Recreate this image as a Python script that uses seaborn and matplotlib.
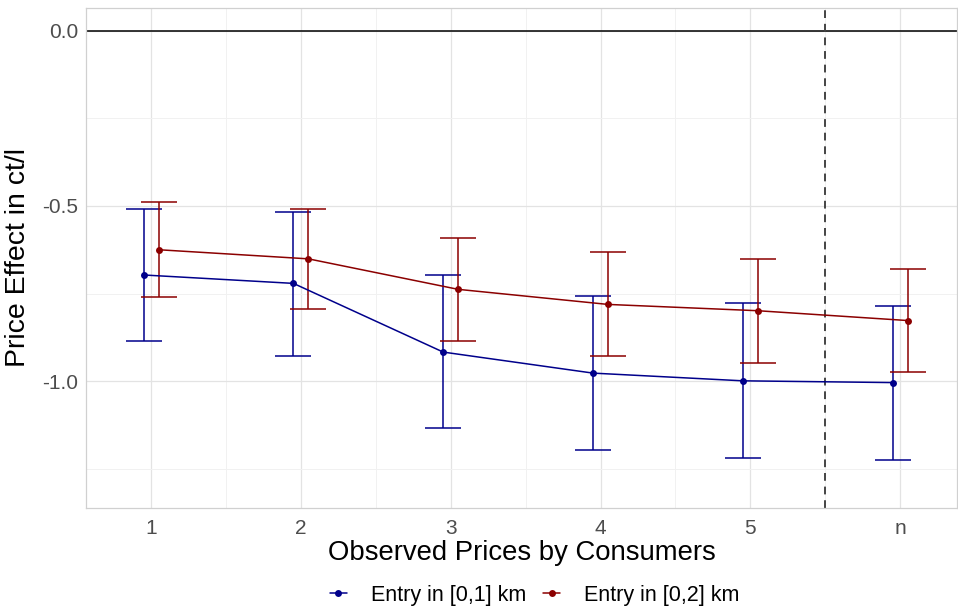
import matplotlib
matplotlib.use("Agg")
import matplotlib.pyplot as plt
import numpy as np
import pandas as pd
import seaborn as sns

# values
categories = ["1", "2", "3", "4", "5", "n"]
series_names = ["Entry in [0,1] km", "Entry in [0,2] km"]
est_1km = [-0.697, -0.721, -0.917, -0.977, -0.999, -1.004]
lo_1km = [-0.886, -0.927, -1.135, -1.197, -1.219, -1.225]
hi_1km = [-0.508, -0.516, -0.698, -0.758, -0.778, -0.785]
est_2km = [-0.625, -0.651, -0.738, -0.781, -0.799, -0.827]
lo_2km = [-0.761, -0.793, -0.886, -0.929, -0.948, -0.973]
hi_2km = [-0.488, -0.509, -0.592, -0.631, -0.650, -0.680]

colors = {series_names[0]: "#00008B", series_names[1]: "#8B0000"}
dodge = 0.05

base = np.arange(1, len(categories) + 1)
df = pd.concat([
    pd.DataFrame({"pos": base - dodge, "est": est_1km, "lo": lo_1km, "hi": hi_1km,
                  "series": series_names[0]}),
    pd.DataFrame({"pos": base + dodge, "est": est_2km, "lo": lo_2km, "hi": hi_2km,
                  "series": series_names[1]}),
], ignore_index=True)

sns.set_theme(style="whitegrid")
plt.rcParams["font.family"] = ["Liberation Sans", "DejaVu Sans"]

fig, ax = plt.subplots(figsize=(9.58, 6.07), dpi=100)

ax.axhline(0, color="black", linewidth=1.1, zorder=1)
ax.axvline(5.5, color="#444444", linewidth=1.4, linestyle=(0, (4, 3)), zorder=1)

for name, grp in df.groupby("series", sort=False):
    ax.errorbar(grp["pos"], grp["est"],
                yerr=[grp["est"] - grp["lo"], grp["hi"] - grp["est"]],
                fmt="none", ecolor=colors[name], elinewidth=1.1,
                capsize=13, capthick=1.1, zorder=2)

sns.lineplot(data=df, x="pos", y="est", hue="series", palette=colors,
             marker="o", markersize=5, markeredgewidth=0, linewidth=1.1,
             ax=ax, zorder=3)

ax.set_xlim(0.567, 6.38)
ax.set_ylim(-1.362, 0.065)
ax.set_xticks(base)
ax.set_xticklabels(categories)
ax.set_yticks([-1.0, -0.5, 0.0])
ax.set_yticklabels(["-1.0", "-0.5", "0.0"])
ax.set_xticks(base[:-1] + 0.5, minor=True)
ax.set_yticks([-1.25, -0.75, -0.25], minor=True)

ax.grid(which="major", color="#e3e3e3", linewidth=0.9)
ax.grid(which="minor", color="#f1f1f1", linewidth=0.7)
ax.set_axisbelow(True)
for sp in ax.spines.values():
    sp.set_color("#d0d0d0")
    sp.set_linewidth(0.9)

ax.tick_params(axis="both", which="major", labelsize=15, labelcolor="#4d4d4d",
               color="#cccccc")
ax.tick_params(axis="y", which="major", length=3, pad=3)
ax.tick_params(axis="x", which="major", length=0, pad=8)
ax.tick_params(which="minor", length=0)

ax.set_xlabel("Observed Prices by Consumers", fontsize=19.8, color="black", labelpad=1)
ax.set_ylabel("Price Effect in ct/l", fontsize=20.5, color="black", labelpad=8)

ax.legend_.remove()
handles, labels = ax.get_legend_handles_labels()
fig.legend(handles, labels, loc="lower center", bbox_to_anchor=(0.558, -0.03),
           ncol=2, frameon=False, fontsize=15.5, handlelength=0.8,
           columnspacing=0.8, handletextpad=1.1, labelcolor="black")

fig.subplots_adjust(left=0.09, right=0.999, top=0.987, bottom=0.163)
fig.savefig("out.png", dpi=100)
